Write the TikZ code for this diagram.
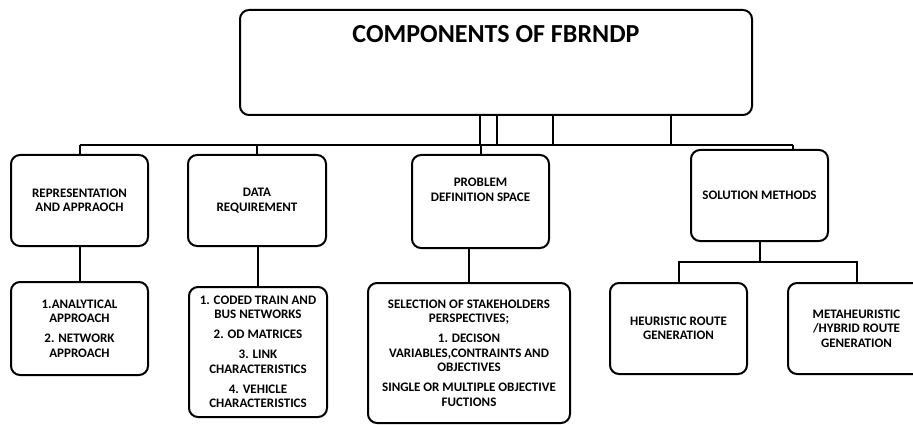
\documentclass[tikz,border=0pt]{standalone}
\usepackage{fontspec}
\setmainfont{Carlito}
\begin{document}
\begin{tikzpicture}[x=1pt,y=-1pt,
  box/.style={draw, line width=2pt, rounded corners=9pt, inner sep=0pt,
    font=\fontsize{13}{14.5}\selectfont\bfseries, align=center},
  lbl/.style={font=\fontsize{13}{14.5}\selectfont\bfseries, align=center, inner sep=0pt},
  wire/.style={line width=2pt}]
\useasboundingbox (0,0) rectangle (913,425);
\clip (0,0) rectangle (913,425);
% boxes
\node[box, minimum width=512pt, minimum height=105pt] (top) at (496,62.5) {};
\node[anchor=base, inner sep=0pt, font=\fontsize{26}{30}\selectfont\bfseries] (title) at (496,43) {COMPONENTS OF FBRNDP};
\node[box, minimum width=137pt, minimum height=91pt] (rep) at (79.5,200.5) {REPRESENTATION\\AND APPRAOCH};
\node[box, minimum width=138pt, minimum height=91pt] (data) at (257,200.5) {DATA\\REQUIREMENT};
\node[box, minimum width=137pt, minimum height=93pt] (prob) at (480.5,201.5) {};
\node[lbl] (probl) at (480.5,190) {PROBLEM\\DEFINITION SPACE};
\node[box, minimum width=137pt, minimum height=91pt] (sol) at (759.5,195.5) {SOLUTION METHODS};
\node[box, minimum width=137pt, minimum height=93pt] (anal) at (79.5,328.5) {1.ANALYTICAL\\APPROACH\\[5.5pt]2. NETWORK\\APPROACH};
\node[box, minimum width=138pt, minimum height=130pt] (dlist) at (258,352) {1. CODED TRAIN AND\\BUS NETWORKS\\[5.5pt]2. OD MATRICES\\[5.5pt]3. LINK\\CHARACTERISTICS\\[5.5pt]4. VEHICLE\\CHARACTERISTICS};
\node[box, minimum width=202pt, minimum height=140pt] (sel) at (469,353) {SELECTION OF STAKEHOLDERS\\PERSPECTIVES;\\[5.5pt]1. DECISON\\VARIABLES,CONTRAINTS AND\\OBJECTIVES\\[5.5pt]SINGLE OR MULTIPLE OBJECTIVE\\FUCTIONS};
\node[box, minimum width=137pt, minimum height=91pt] (heur) at (678.5,328.5) {HEURISTIC ROUTE\\GENERATION};
\node[box, minimum width=137pt, minimum height=91pt] (meta) at (856.5,328.5) {METAHEURISTIC\\/HYBRID ROUTE\\GENERATION};
% main bus
\coordinate (busL) at (79.5,145);
\coordinate (busR) at (793,145);
\draw[wire] (busL) -- (busR);
\foreach \dx in {-16,1,57,175}{
  \draw[wire] ([xshift=\dx pt]top.south) -- ([xshift=\dx pt]top.south |- busL);
}
\draw[wire] (rep.north) -- (rep.north |- busL);
\draw[wire] (data.north) -- (data.north |- busL);
\draw[wire] (prob.north) -- (prob.north |- busL);
\draw[wire] (busR) -- (busR |- sol.north);
% lower links
\draw[wire] (rep.south) -- (anal.north);
\draw[wire] (data.south) -- (data.south -| dlist.north) -- (dlist.north);
\draw[wire] (sel.north |- prob.south) -- (sel.north);
\coordinate (sb) at (759.5,262);
\draw[wire] (sol.south) -- (sb);
\draw[wire] (heur.north) -- (heur.north |- sb) -- (meta.north |- sb) -- (meta.north);
\end{tikzpicture}
\end{document}
